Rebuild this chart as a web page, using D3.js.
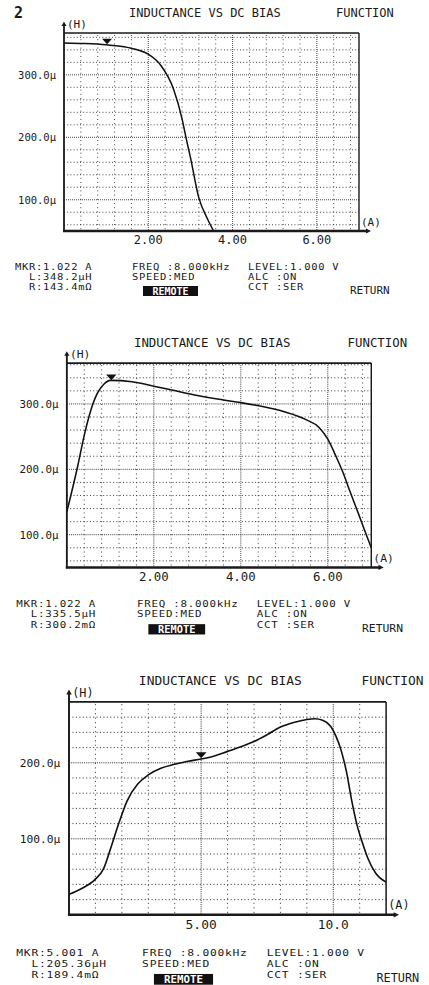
<!DOCTYPE html>
<html><head><meta charset="utf-8">
<script src="https://cdn.jsdelivr.net/npm/d3@7"></script>
<style>
html,body{margin:0;padding:0;background:#fff;}
svg{display:block;}
text{font-family:"DejaVu Sans Mono",monospace;fill:#1a1a1a;white-space:pre;}
</style></head><body>
<svg id="c" width="429" height="985"></svg>
<script>
// ---------- DATA ----------
const p1Current    = [0, 0.5, 1.0, 1.5, 2.0, 2.3, 2.6, 2.8, 2.9, 3.0, 3.2, 3.4, 3.55];
const p1Inductance = [351, 350, 348, 344, 333, 315, 277, 230, 198, 168, 103, 70, 50];

const p2Current    = [0, 0.25, 0.4, 0.55, 0.7, 0.85, 1.0, 1.5, 2.0, 2.5, 3.0, 3.5, 4.0, 4.5, 5.0, 5.5, 5.8, 6.0, 6.2, 6.35, 6.5, 6.7, 6.85, 7.0];
const p2Inductance = [135, 205, 252, 290, 316, 330, 336, 334, 327, 320, 313, 307, 302, 296, 288, 276, 264, 246, 218, 195, 168, 133, 106, 80];

const p3Current    = [0, 0.5, 1.0, 1.3, 1.6, 1.9, 2.2, 2.6, 3.0, 3.5, 4.0, 4.5, 5.0, 5.5, 6.0, 6.5, 7.0, 7.5, 8.0, 8.5, 9.0, 9.3, 9.6, 9.9, 10.1, 10.3, 10.5, 10.7, 10.9, 11.1, 11.3, 11.6, 12.0];
const p3Inductance = [27, 35, 47, 60, 90, 122, 150, 172, 184, 193, 198, 202, 205, 209, 215, 221, 228, 237, 247, 253, 257, 258, 256, 248, 235, 216, 188, 150, 118, 95, 75, 55, 43];

const xDomainMax   = [7, 7, 12];
const yDomainMin   = [50, 50, 0];
const yDomainMax   = [367, 362.5, 280];
const xTickValues  = [[2, 4, 6], [2, 4, 6], [5, 10]];
const xTickLabels  = [["2.00", "4.00", "6.00"], ["2.00", "4.00", "6.00"], ["5.00", "10.0"]];
const xMinorStep   = [0.4, 0.4, 1];
const yTickValues  = [[100, 200, 300], [100, 200, 300], [100, 200]];
const yTickLabels  = [["100.0µ", "200.0µ", "300.0µ"], ["100.0µ", "200.0µ", "300.0µ"], ["100.0µ", "200.0µ"]];
const yMinorStep   = [20, 20, 20];

const markerCurrent    = [1.022, 1.022, 5.001];
const markerInductance = [348.2, 335.5, 205.36];
const mkrText   = ["MKR:1.022 A", "MKR:1.022 A", "MKR:5.001 A"];
const lText     = ["  L:348.2µH", "  L:335.5µH", "  L:205.36µH"];
const rText     = ["  R:143.4mΩ", "  R:300.2mΩ", "  R:189.4mΩ"];
const col2Text  = ["FREQ :8.000kHz", "SPEED:MED"];
const col3Text  = ["LEVEL:1.000 V", "ALC :ON", "CCT :SER"];
const titleText = "INDUCTANCE VS DC BIAS";
const functionText = "FUNCTION";
const returnText = "RETURN";
const remoteText = "REMOTE";
const yUnit = "(H)", xUnit = "(A)";
const pageNumber = "2";

// ---------- LAYOUT ----------
const panelPlacement = [[0, 0, 1], [0.8, 329, 1.032], [0.2, 666.5, 1.075]];
const box = {l: 64, r: 359, t: 33, b: 231};
const ink = "#1a1a1a";

const svg = d3.select("#c");
const currents = [p1Current, p2Current, p3Current];
const inductances = [p1Inductance, p2Inductance, p3Inductance];

function textBlock(g, x, y0, lines) {
  lines.forEach((s, k) =>
    g.append("text")
      .attr("transform", `translate(${x},${y0 + k * 10}) scale(1,0.84)`)
      .attr("font-size", 10.5).attr("letter-spacing", 0.7).text(s));
}

for (let i = 0; i < 3; i++) {
  const [tx, ty, s] = panelPlacement[i];
  const g = svg.append("g").attr("transform", `translate(${tx},${ty}) scale(${s})`);
  const x = d3.scaleLinear().domain([0, xDomainMax[i]]).range([box.l, box.r]);
  const y = d3.scaleLinear().domain([yDomainMin[i], yDomainMax[i]]).range([box.b, box.t]);

  const clipId = "clip" + i;
  g.append("clipPath").attr("id", clipId).append("rect")
    .attr("x", box.l).attr("y", box.t).attr("width", box.r - box.l).attr("height", box.b - box.t);

  // grid
  const xMajors = xTickValues[i];
  const yMajors = yTickValues[i];
  const near = (a, arr) => arr.some(v => Math.abs(v - a) < 1e-6);
  const xMinors = d3.range(xMinorStep[i], xDomainMax[i] - 1e-6, xMinorStep[i]).filter(v => !near(+v.toFixed(6), xMajors));
  const yStart = Math.ceil((yDomainMin[i] + 1e-6) / yMinorStep[i]) * yMinorStep[i];
  const yMinors = d3.range(yStart, yDomainMax[i] - 1e-6, yMinorStep[i]).filter(v => !near(v, yMajors));

  const grid = g.append("g");
  grid.selectAll(".vmin").data(xMinors).join("line")
    .attr("x1", d => x(d)).attr("x2", d => x(d)).attr("y1", box.t + 2).attr("y2", box.b)
    .attr("stroke", "#333").attr("stroke-width", 0.9).attr("stroke-dasharray", "1,3.2");
  grid.selectAll(".hmin").data(yMinors).join("line")
    .attr("y1", d => y(d)).attr("y2", d => y(d)).attr("x1", box.l).attr("x2", box.r)
    .attr("stroke", "#333").attr("stroke-width", 0.9).attr("stroke-dasharray", "1,2.2");
  grid.selectAll(".vmaj").data(xMajors).join("line")
    .attr("x1", d => x(d)).attr("x2", d => x(d)).attr("y1", box.t + 2).attr("y2", box.b)
    .attr("stroke", "#333").attr("stroke-width", 0.9).attr("stroke-dasharray", "1,1");
  grid.selectAll(".hmaj").data(yMajors).join("line")
    .attr("y1", d => y(d)).attr("y2", d => y(d)).attr("x1", box.l).attr("x2", box.r)
    .attr("stroke", "#333").attr("stroke-width", 0.9).attr("stroke-dasharray", "1,1");

  // frame
  g.append("line").attr("x1", box.l).attr("x2", box.r).attr("y1", box.t).attr("y2", box.t)
    .attr("stroke", ink).attr("stroke-width", 1.6);
  g.append("line").attr("x1", box.r).attr("x2", box.r).attr("y1", box.t).attr("y2", box.b)
    .attr("stroke", ink).attr("stroke-width", 1.4);
  g.append("line").attr("x1", box.l).attr("x2", box.l).attr("y1", box.b + 1).attr("y2", 24)
    .attr("stroke", ink).attr("stroke-width", 1.8);
  g.append("path").attr("d", `M${box.l - 2.5},26 L${box.l + 2.5},26 L${box.l},21.5 Z`).attr("fill", ink);
  g.append("line").attr("x1", box.l - 1).attr("x2", 368).attr("y1", box.b).attr("y2", box.b)
    .attr("stroke", ink).attr("stroke-width", 2.4);
  g.append("path").attr("d", `M366,${box.b - 2.5} L366,${box.b + 2.5} L371,${box.b} Z`).attr("fill", ink);

  // curve
  const pts = currents[i].map((c, k) => [c, inductances[i][k]]);
  g.append("path").datum(pts)
    .attr("clip-path", `url(#${clipId})`)
    .attr("fill", "none").attr("stroke", "#111").attr("stroke-width", 1.5)
    .attr("d", d3.line().x(d => x(d[0])).y(d => y(d[1])).curve(d3.curveMonotoneX));

  // marker
  const mx = x(markerCurrent[i]), my = y(markerInductance[i]);
  g.append("path").attr("d", `M${mx - 5},${my - 6} L${mx + 5},${my - 6} L${mx},${my - 0.5} Z`).attr("fill", "#111");

  // tick labels
  g.selectAll(".yl").data(yMajors).join("text")
    .attr("x", 56).attr("y", d => y(d)).attr("dy", "0.36em").attr("text-anchor", "end")
    .attr("font-size", 10.5).text((d, k) => yTickLabels[i][k]);
  g.selectAll(".xl").data(xMajors).join("text")
    .attr("x", d => x(d)).attr("y", 244).attr("text-anchor", "middle")
    .attr("font-size", 12).text((d, k) => xTickLabels[i][k]);
  g.append("text").attr("x", 67).attr("y", 28).attr("font-size", 11).text(yUnit);
  g.append("text").attr("x", 361).attr("y", 225.5).attr("font-size", 11).text(xUnit);

  // header
  if (i === 0) {
    g.append("text").attr("x", 14).attr("y", 18).attr("font-size", 15).attr("font-weight", "bold")
      .attr("font-family", "Liberation Sans, Arial, sans-serif").text(pageNumber);
  }
  g.append("text").attr("x", 129).attr("y", 17).attr("font-size", 12).text(titleText);
  g.append("text").attr("x", 336).attr("y", 17).attr("font-size", 12).text(functionText);

  // readouts
  textBlock(g, 15, 269.5, [mkrText[i], lText[i], rText[i]]);
  textBlock(g, 132, 269.5, col2Text);
  textBlock(g, 248, 269.5, col3Text);
  g.append("rect").attr("x", 143).attr("y", 286).attr("width", 55).attr("height", 10).attr("fill", "#111");
  g.append("text").attr("x", 170.5).attr("y", 294.5).attr("text-anchor", "middle").attr("font-size", 10)
    .attr("font-weight", "bold").style("fill", "#fff").text(remoteText);
  g.append("text").attr("x", 350).attr("y", 293.5).attr("font-size", 11).text(returnText);
}
</script>
</body></html>
